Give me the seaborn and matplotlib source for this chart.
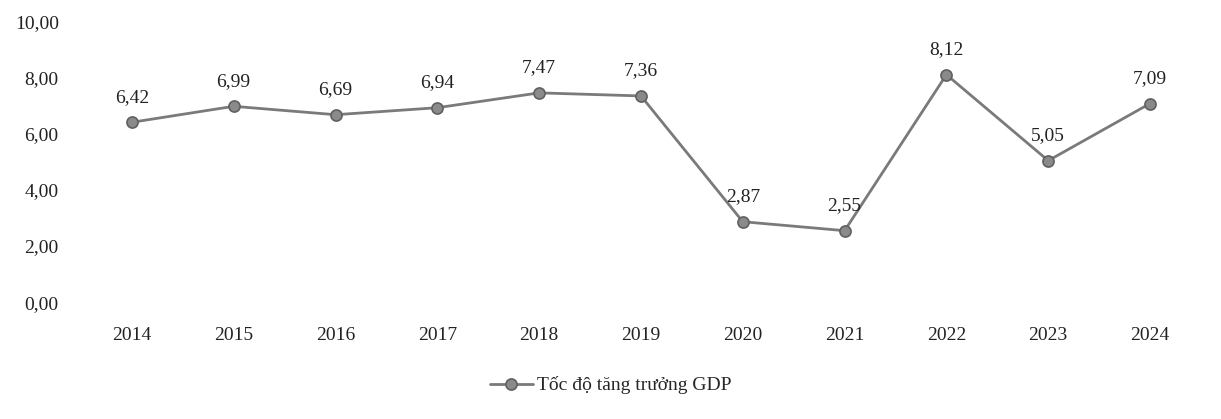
import matplotlib.pyplot as plt
import seaborn as sns
import pandas as pd

years = [2014, 2015, 2016, 2017, 2018, 2019, 2020, 2021, 2022, 2023, 2024]
gdp_growth = [6.42, 6.99, 6.69, 6.94, 7.47, 7.36, 2.87, 2.55, 8.12, 5.05, 7.09]
y_ticks = [0, 2, 4, 6, 8, 10]
series_name = 'Tốc độ tăng trưởng GDP'

df = pd.DataFrame({'year': years, 'gdp': gdp_growth})

sns.set_style("white")
plt.rcParams['font.family'] = ['Liberation Serif', 'DejaVu Serif']

fig = plt.figure(figsize=(12.21, 4.19), dpi=100)
ax = fig.add_axes([0.0663, 0.279, 0.9173, 0.6685])

sns.lineplot(data=df, x='year', y='gdp', ax=ax, color='#7a7a7a', lw=2,
             marker='o', markersize=8, markerfacecolor='#8a8a8a',
             markeredgecolor='#606060', markeredgewidth=1.2, label=series_name)

# value labels above each point
for x, v in zip(years, gdp_growth):
    ax.annotate(f"{v:.2f}".replace('.', ','), (x, v), xytext=(0, 12),
                textcoords='offset points', ha='center', va='bottom',
                fontsize=14, color='#222222')

ax.set_xlim(2013.5, 2024.5)
ax.set_ylim(0, 10)
ax.set_xticks(years)
ax.set_xticklabels([str(y) for y in years])
ax.set_yticks(y_ticks)
ax.set_yticklabels([f"{t:.2f}".replace('.', ',') for t in y_ticks])
ax.tick_params(axis='x', length=0, pad=18, labelsize=14, labelcolor='#222222')
ax.tick_params(axis='y', length=0, pad=16, labelsize=14, labelcolor='#222222')
ax.set_xlabel('')
ax.set_ylabel('')
sns.despine(ax=ax, left=True, bottom=True)

ax.get_legend().remove()
handles, labels = ax.get_legend_handles_labels()
fig.legend(handles, labels, loc='center', bbox_to_anchor=(0.5, 0.08),
           frameon=False, fontsize=14, handlelength=2.2, handletextpad=0.2)

fig.savefig('out.png', dpi=100)
